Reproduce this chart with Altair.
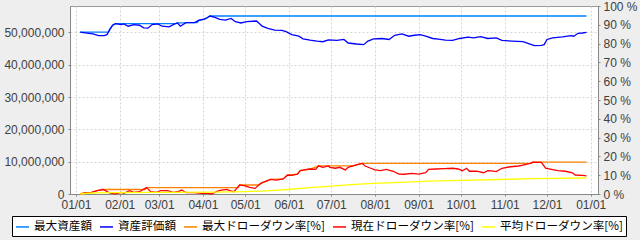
import altair as alt
import pandas as pd

# ---------------- data ----------------
series_names = ["最大資産額", "資産評価額", "最大ドローダウン率[%]", "現在ドローダウン率[%]", "平均ドローダウン率[%]"]
series_colors = ["#0080FF", "#0000FF", "#FF8000", "#FF0000", "#FFFF00"]

# 資産評価額 (million yen)
asset_dates = ["2021-01-04", "2021-01-09", "2021-01-13", "2021-01-17", "2021-01-21", "2021-01-23", "2021-01-25",
               "2021-01-27", "2021-01-29", "2021-02-02", "2021-02-04", "2021-02-07", "2021-02-11", "2021-02-15",
               "2021-02-18", "2021-02-21", "2021-02-24", "2021-02-28", "2021-03-03", "2021-03-08", "2021-03-12",
               "2021-03-14", "2021-03-16", "2021-03-20", "2021-03-26", "2021-03-29", "2021-04-02", "2021-04-04",
               "2021-04-06", "2021-04-09", "2021-04-13", "2021-04-17", "2021-04-21", "2021-04-24", "2021-04-28",
               "2021-05-02", "2021-05-09", "2021-05-13", "2021-05-17", "2021-05-22", "2021-05-27", "2021-05-30",
               "2021-06-03", "2021-06-08", "2021-06-11", "2021-06-16", "2021-06-21", "2021-06-25", "2021-06-29",
               "2021-07-05", "2021-07-10", "2021-07-13", "2021-07-19", "2021-07-24", "2021-07-27", "2021-07-31",
               "2021-08-06", "2021-08-11", "2021-08-15", "2021-08-20", "2021-08-25", "2021-08-29", "2021-09-02",
               "2021-09-06", "2021-09-11", "2021-09-15", "2021-09-20", "2021-09-25", "2021-09-30", "2021-10-06",
               "2021-10-10", "2021-10-15", "2021-10-20", "2021-10-26", "2021-10-30", "2021-11-06", "2021-11-14",
               "2021-11-18", "2021-11-22", "2021-11-27", "2021-11-29", "2021-12-01", "2021-12-05", "2021-12-12",
               "2021-12-18", "2021-12-20", "2021-12-23", "2021-12-26", "2021-12-29"]
asset_values = [50.06, 49.75, 49.5, 49.0, 49.0, 49.3, 50.9,
                52.2, 52.7, 52.4, 52.6, 51.9, 52.4, 52.2,
                51.4, 51.3, 52.4, 52.6, 51.9, 51.7, 52.6,
                52.9, 51.9, 53.0, 53.0, 53.7, 54.1, 54.5,
                55.05, 54.7, 54.0, 53.8, 54.3, 53.3, 52.9,
                53.3, 53.5, 51.9, 51.2, 50.7, 50.6, 50.2,
                49.3, 48.8, 48.0, 47.6, 47.3, 47.1, 47.7,
                47.5, 47.8, 46.7, 46.4, 46.2, 47.3, 48.0,
                48.1, 47.8, 49.1, 49.5, 48.8, 49.1, 49.3,
                48.8, 48.1, 47.9, 47.6, 47.5, 48.1, 48.5,
                48.3, 48.7, 48.1, 48.3, 47.5, 47.3, 47.1,
                46.5, 45.9, 46.0, 46.2, 47.8, 48.3, 48.6,
                49.0, 48.8, 49.7, 49.8, 50.0]

# 最大資産額 (million yen)
maxasset_dates = ["2021-01-04", "2021-01-24", "2021-01-25", "2021-01-27", "2021-01-29", "2021-03-13", "2021-03-14",
                  "2021-03-19", "2021-03-20", "2021-03-28", "2021-03-29", "2021-04-02", "2021-04-04", "2021-04-06",
                  "2021-12-29"]
maxasset_values = [50.06, 50.06, 50.9, 52.2, 52.7, 52.7, 52.9,
                   52.9, 53.0, 53.0, 53.7, 54.1, 54.5, 55.05,
                   55.05]

# 現在ドローダウン率 [%]
dd_dates = ["2021-01-04", "2021-01-08", "2021-01-12", "2021-01-16", "2021-01-20", "2021-01-22", "2021-01-24",
            "2021-01-26", "2021-01-29", "2021-02-02", "2021-02-04", "2021-02-08", "2021-02-11", "2021-02-15",
            "2021-02-17", "2021-02-20", "2021-02-23", "2021-02-27", "2021-03-02", "2021-03-07", "2021-03-11",
            "2021-03-14", "2021-03-17", "2021-03-20", "2021-03-26", "2021-03-31", "2021-04-04", "2021-04-07",
            "2021-04-11", "2021-04-14", "2021-04-18", "2021-04-20", "2021-04-23", "2021-04-25", "2021-04-27",
            "2021-05-01", "2021-05-04", "2021-05-08", "2021-05-12", "2021-05-15", "2021-05-19", "2021-05-23",
            "2021-05-28", "2021-05-31", "2021-06-03", "2021-06-07", "2021-06-09", "2021-06-12", "2021-06-16",
            "2021-06-20", "2021-06-22", "2021-06-25", "2021-06-29", "2021-06-30", "2021-07-04", "2021-07-07",
            "2021-07-11", "2021-07-13", "2021-07-17", "2021-07-20", "2021-07-23", "2021-07-25", "2021-07-29",
            "2021-08-01", "2021-08-05", "2021-08-09", "2021-08-14", "2021-08-18", "2021-08-22", "2021-08-27",
            "2021-09-01", "2021-09-06", "2021-09-08", "2021-09-13", "2021-09-19", "2021-09-25", "2021-09-29",
            "2021-10-02", "2021-10-05", "2021-10-07", "2021-10-12", "2021-10-17", "2021-10-20", "2021-10-24",
            "2021-10-26", "2021-10-30", "2021-11-05", "2021-11-11", "2021-11-14", "2021-11-19", "2021-11-21",
            "2021-11-27", "2021-11-30", "2021-12-04", "2021-12-09", "2021-12-14", "2021-12-19", "2021-12-21",
            "2021-12-26", "2021-12-29"]
dd_values = [0.0, 0.7, 0.9, 1.8, 2.4, 1.8, 0.9,
             0.35, 0.1, 0.9, 0.35, 1.8, 0.9, 1.2,
             2.1, 3.4, 1.2, 0.9, 1.8, 1.8, 0.9,
             1.2, 2.1, 0.7, 0.7, 0.35, 0.35, 0.0,
             1.4, 2.1, 2.5, 1.8, 1.2, 3.0, 4.8,
             4.3, 3.5, 3.0, 5.7, 6.6, 7.8, 7.4,
             8.0, 10.1, 9.9, 10.6, 12.4, 12.8, 13.3,
             13.1, 15.0, 14.2, 14.9, 14.2, 13.7, 14.2,
             12.8, 14.2, 15.1, 15.8, 16.3, 14.9, 13.7,
             12.8, 12.4, 13.1, 12.1, 10.6, 10.5, 11.0,
             10.6, 11.3, 13.1, 13.3, 13.5, 13.7, 13.3,
             12.4, 13.7, 12.1, 12.2, 11.3, 12.4, 12.2,
             11.9, 13.7, 14.5, 14.9, 15.4, 16.3, 17.0,
             16.8, 13.7, 13.1, 12.4, 12.1, 11.3, 10.1,
             9.9, 9.6]

# 最大ドローダウン率 [%]
maxdd_dates = ["2021-01-04", "2021-01-08", "2021-01-12", "2021-01-16", "2021-01-20", "2021-02-19", "2021-02-20",
               "2021-04-26", "2021-04-27", "2021-05-11", "2021-05-12", "2021-05-15", "2021-05-19", "2021-05-28",
               "2021-05-31", "2021-06-07", "2021-06-09", "2021-06-12", "2021-06-16", "2021-06-22", "2021-07-16",
               "2021-07-17", "2021-07-20", "2021-07-23", "2021-11-20", "2021-11-21", "2021-12-29"]
maxdd_values = [0.0, 0.7, 0.9, 1.8, 2.4, 2.4, 3.4,
                3.4, 4.8, 4.8, 5.7, 6.6, 7.8, 8.0,
                10.1, 10.6, 12.4, 12.8, 13.3, 15.0, 15.0,
                15.1, 15.8, 16.3, 16.3, 17.0, 17.0]

# 平均ドローダウン率 [%]
avgdd_dates = ["2021-01-04", "2021-01-09", "2021-01-21", "2021-03-02", "2021-04-11", "2021-05-01", "2021-05-16",
               "2021-05-31", "2021-06-16", "2021-07-01", "2021-07-15", "2021-07-31", "2021-08-19", "2021-09-08",
               "2021-10-01", "2021-10-28", "2021-11-22", "2021-12-29"]
avgdd_values = [0.0, 0.4, 0.7, 0.9, 1.0, 1.3, 1.7,
                2.4, 3.4, 4.2, 5.0, 5.7, 6.2, 6.8,
                7.3, 7.7, 8.2, 8.5]

month_ticks = ["2021-%02d-01" % m for m in range(1, 13)] + ["2022-01-01"]
left_ticks = [0, 10000000, 20000000, 30000000, 40000000, 50000000]
right_ticks = [0, 10, 20, 30, 40, 50, 60, 70, 80, 90, 100]


def frame(dates, values, name, factor=1.0):
    return pd.DataFrame({"date": dates, "value": [v * factor for v in values], "series": name})


df_max = frame(maxasset_dates, maxasset_values, series_names[0], 1e6)
df_asset = frame(asset_dates, asset_values, series_names[1], 1e6)
df_maxdd = frame(maxdd_dates, maxdd_values, series_names[2])
df_dd = frame(dd_dates, dd_values, series_names[3])
df_avgdd = frame(avgdd_dates, avgdd_values, series_names[4])

# ---------------- encodings ----------------
tick_dt = [alt.DateTime(year=int(d[:4]), month=int(d[5:7]), date=int(d[8:10]), utc=True) for d in month_ticks]
x_enc = alt.X(
    "date:T",
    scale=alt.Scale(type="utc",
                    domain=[alt.DateTime(year=2020, month=12, date=27, hours=18, utc=True),
                            alt.DateTime(year=2022, month=1, date=6, hours=4, utc=True)]),
    axis=alt.Axis(title=None, values=tick_dt, labelExpr="utcFormat(datum.value, '%m/%d')", grid=True,
                  labelFlush=False, labelPadding=3, labelOverlap=False),
)
y_left = alt.Y(
    "value:Q",
    scale=alt.Scale(domain=[0, 58150000], nice=False, zero=True),
    axis=alt.Axis(title=None, orient="left", values=left_ticks, format=",d", grid=True, labelPadding=4),
)
y_right = alt.Y(
    "value:Q",
    scale=alt.Scale(domain=[0, 100], nice=False),
    axis=alt.Axis(title=None, orient="right", values=right_ticks, labelExpr="datum.value + ' %'",
                  grid=False, labelPadding=3),
)
color_enc = alt.Color(
    "series:N",
    scale=alt.Scale(domain=series_names, range=series_colors),
    legend=alt.Legend(title=None, orient="none", legendX=-58, legendY=210, direction="horizontal",
                      columns=5, symbolType="stroke", symbolSize=169, symbolStrokeWidth=1.5,
                      labelFont="Noto Sans CJK JP", labelFontSize=11.6, labelColor="#000000",
                      fillColor="#FFFFFF", strokeColor="#000000", padding=3, columnPadding=5,
                      labelOffset=4),
)


def line(df, y_enc):
    return alt.Chart(df).mark_line(strokeWidth=1.3).encode(x=x_enc, y=y_enc, color=color_enc)


left = alt.layer(line(df_max, y_left), line(df_asset, y_left))
right = alt.layer(line(df_maxdd, y_right), line(df_dd, y_right), line(df_avgdd, y_right))

chart = (
    alt.layer(left, right)
    .resolve_scale(y="independent")
    .properties(width=528, height=188, background="#EEEEEE",
                padding={"left": 70, "top": 6, "right": 42, "bottom": 46},
                autosize=alt.AutoSizeParams(type="none"))
    .configure_view(fill="white", stroke="#999999", strokeWidth=1)
    .configure_axis(labelFont="Liberation Sans", labelFontSize=12, labelColor="#404040",
                    domainColor="#888888", tickColor="#888888", tickSize=2,
                    gridColor="#d4d4d4", gridDash=[2, 2], gridWidth=1)
)

chart.save("out.html", embed_options={"renderer": "svg", "actions": False})
